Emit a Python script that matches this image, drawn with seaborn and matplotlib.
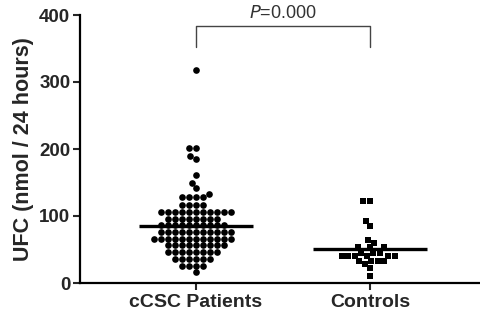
import numpy as np
import pandas as pd
import matplotlib
matplotlib.use("Agg")
import matplotlib.pyplot as plt
import seaborn as sns

groups = ["cCSC Patients", "Controls"]

ccsc_values = (
    [318, 201, 201, 189, 185, 161, 150, 142, 133]
    + [128] * 4 + [117] * 4 + [106] * 11 + [96] * 8
    + [86] * 10 + [76] * 11 + [66] * 12 + [56] * 9
    + [46] * 8 + [36] * 6 + [26] * 4 + [16]
)
control_values = (
    [123, 123, 93, 85, 64, 60, 53, 53, 53, 45, 45, 45]
    + [41] * 6 + [33] * 4 + [29, 23, 11]
)

y_ticks = [0, 100, 200, 300, 400]
y_label = "UFC (nmol / 24 hours)"
p_text = "=0.000"

df = pd.DataFrame({
    "group": [groups[0]] * len(ccsc_values) + [groups[1]] * len(control_values),
    "UFC": ccsc_values + control_values,
})

sns.set_style("white")
plt.rcParams["font.family"] = ["Liberation Sans", "DejaVu Sans"]

fig = plt.figure(figsize=(4.8, 3.2), dpi=100)
ax = fig.add_axes([80 / 480, (320 - 283) / 320, 400 / 480, 268 / 320])

sns.swarmplot(data=df[df.group == groups[0]], x="group", y="UFC", order=groups,
              marker="o", color="black", size=4.8, ax=ax, linewidth=0)
sns.swarmplot(data=df[df.group == groups[1]], x="group", y="UFC", order=groups,
              marker="s", color="black", size=4.6, ax=ax, linewidth=0)

means = df.groupby("group")["UFC"].mean()
for i, g in enumerate(groups):
    ax.hlines(means[g], i - 0.33, i + 0.33, color="black", lw=2.4, zorder=5)

ax.set_xlim(-0.667, 1.632)
ax.set_ylim(0, 400)
ax.set_yticks(y_ticks)
ax.set_xlabel("")
ax.set_ylabel(y_label, fontsize=15.5, fontweight="bold", labelpad=4)
for lab in ax.get_yticklabels() + ax.get_xticklabels():
    lab.set_fontweight("bold")
ax.tick_params(axis="y", labelsize=13.5, length=5, width=1.5, direction="out", left=True, pad=2)
ax.tick_params(axis="x", labelsize=14, length=5, width=1.5, direction="out", bottom=True, pad=3)
sns.despine(ax=ax)
for s in ["left", "bottom"]:
    ax.spines[s].set_linewidth(1.6)
    ax.spines[s].set_color("black")

# significance bracket
ax.plot([0, 0, 1, 1], [352, 383, 383, 352], color="#444444", lw=1.0, clip_on=False)
ax.text(0.5, 390, r"$\it{P}$" + p_text, ha="center", va="bottom", fontsize=13,
        color="#333333")

fig.savefig("out.png", dpi=100)
